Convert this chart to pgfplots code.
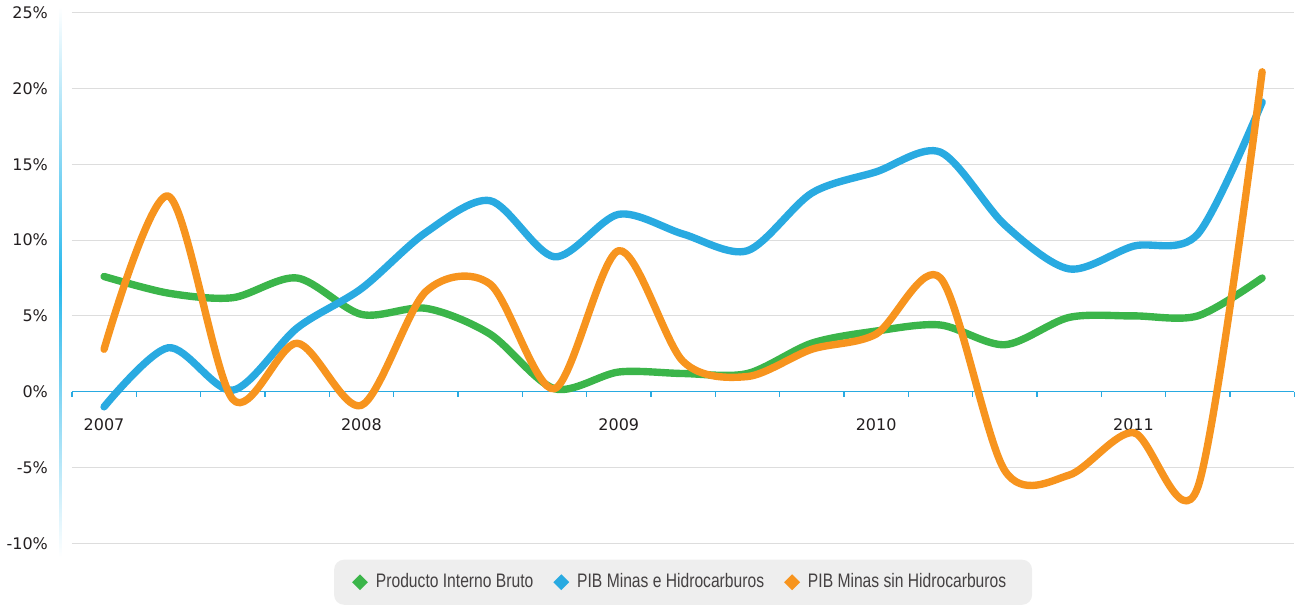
\documentclass[border=0pt]{standalone}
\usepackage{pgfplots}
\pgfplotsset{compat=1.18}
\usepackage{pgfplotstable}
\usepackage{fontspec}
\setmainfont{DejaVu Sans}
\newfontfamily\legfont[FakeStretch=0.8]{Liberation Sans}

\definecolor{pibgreen}{HTML}{3BB54A}
\definecolor{pibblue}{HTML}{29AAE1}
\definecolor{piborange}{HTML}{F7941E}
\definecolor{axcyan}{HTML}{29AAE1}
\definecolor{ylinecol}{HTML}{29B8EC}
\definecolor{gridgray}{HTML}{DDDDDD}
\definecolor{legbg}{HTML}{EEEEEE}
\definecolor{txt}{HTML}{231F20}

% quarterly growth, 2007Q1 .. 2011Q3
\pgfplotstableread{
q  pib  minas  sinhc
0  7.6  -1.0   2.8
1  6.5   2.9  12.9
2  6.2   0.1  -0.5
3  7.5   4.2   3.2
4  5.1   6.8  -0.9
5  5.5  10.5   6.6
6  3.8  12.6   7.1
7  0.2   8.9   0.2
8  1.3  11.7   9.3
9  1.2  10.4   2.0
10 1.2   9.3   1.0
11 3.2  13.1   2.8
12 4.0  14.5   3.8
13 4.4  15.8   7.5
14 3.1  11.0  -5.2
15 4.9   8.1  -5.5
16 5.0   9.6  -2.7
17 5.0  10.4  -6.3
18 7.5  19.1  21.1
}\pibdata

\newcommand\legdiamond[1]{\path[draw=none, fill=#1, sharp corners] (0pt,0pt) -- (4pt,4pt) -- (8pt,0pt) -- (4pt,-4pt) -- cycle;}

\begin{document}
\begin{tikzpicture}
\begin{axis}[
    scale only axis,
    width=612.75pt, height=266pt,
    xmin=-0.5, xmax=18.5,
    ymin=-10, ymax=25,
    axis x line*=middle,
    axis y line*=left,
    y axis line style={draw=none},
    x axis line style={axcyan, line width=0.7pt, -},
    xtick={0,4,8,12,16},
    xticklabels={2007,2008,2009,2010,2011},
    minor xtick={-0.5,0.5,...,18.5},
    tick align=outside,
    major tick length=0pt,
    minor tick length=2.5pt,
    x tick style={axcyan, line width=0.7pt},
    xticklabel style={yshift=-10pt},
    ytick={-10,-5,...,25},
    yticklabels={-10\%,-5\%,0\%,5\%,10\%,15\%,20\%,25\%},
    y tick style={draw=none},
    yticklabel style={xshift=-8.5pt},
    ymajorgrids,
    grid style={gridgray, line width=0.5pt},
    tick label style={font=\fontsize{8}{9}\selectfont, text=txt},
    clip=false,
    legend style={at={(0.5,0)}, anchor=north, yshift=-8pt,
        draw=none, fill=legbg, rounded corners=5pt,
        legend columns=3, inner xsep=9pt, inner ysep=5pt,
        font=\legfont\fontsize{9.8}{11}\selectfont, text=txt!85,
        nodes={inner xsep=4pt},
        /tikz/every even column/.append style={column sep=6pt}},
    legend cell align=left,
]
\addplot[pibgreen, line width=3.7pt, smooth, tension=0.5, line cap=round, line join=round,
    legend image code/.code={\legdiamond{pibgreen}}]
    table[x=q, y=pib] {\pibdata};
\addlegendentry{Producto Interno Bruto}
\addplot[pibblue, line width=3.7pt, smooth, tension=0.5, line cap=round, line join=round,
    legend image code/.code={\legdiamond{pibblue}}]
    table[x=q, y=minas] {\pibdata};
\addlegendentry{PIB Minas e Hidrocarburos}
\addplot[piborange, line width=3.7pt, smooth, tension=0.5, line cap=round, line join=round,
    legend image code/.code={\legdiamond{piborange}}]
    table[x=q, y=sinhc] {\pibdata};
\addlegendentry{PIB Minas sin Hidrocarburos}
\shade[top color=white, bottom color=white, middle color=ylinecol]
    ([xshift=-6.4pt]axis cs:-0.5,-10.9) rectangle ([xshift=-5.2pt]axis cs:-0.5,25.4);
\end{axis}
\end{tikzpicture}
\end{document}
